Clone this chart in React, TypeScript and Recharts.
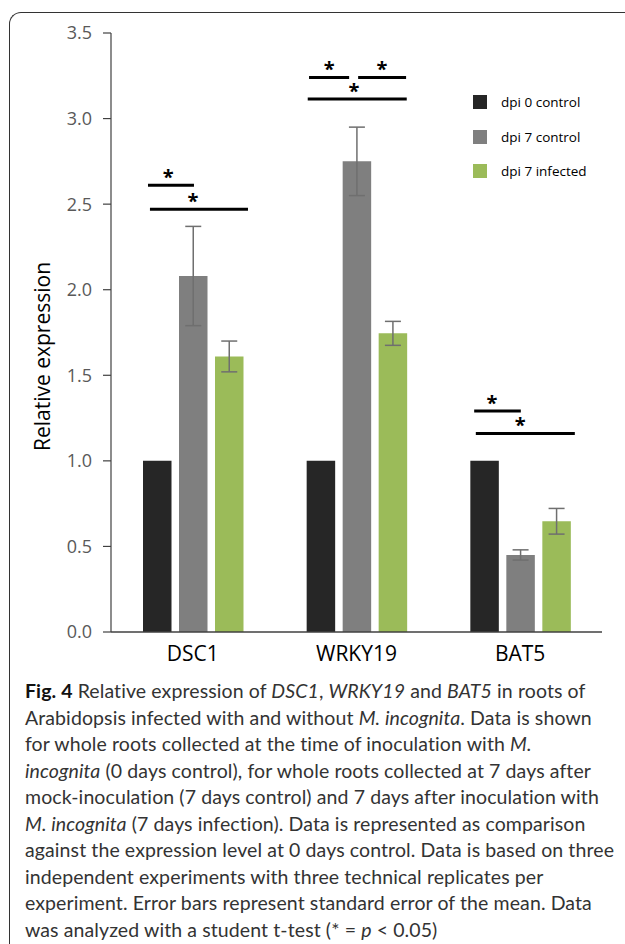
import { BarChart, Bar, XAxis, YAxis, ErrorBar, ReferenceLine, ReferenceDot } from "recharts";

const genes = ["DSC1", "WRKY19", "BAT5"];
const dpi0Control = [1, 1, 1];
const dpi0ControlErr = [0, 0, 0];
const dpi7Control = [2.08, 2.75, 0.45];
const dpi7ControlErr = [0.29, 0.2, 0.03];
const dpi7Infected = [1.61, 1.745, 0.647];
const dpi7InfectedErr = [0.09, 0.07, 0.075];
const yTicks = [0, 0.5, 1, 1.5, 2, 2.5, 3, 3.5];

// significance brackets, x in category units (0..3)
const bracketFrom = [0.226, 0.238, 1.21, 1.51, 1.202, 2.219, 2.229];
const bracketTo = [0.507, 0.837, 1.455, 1.803, 1.807, 2.504, 2.834];
const bracketLevel = [2.61, 2.47, 3.24, 3.24, 3.115, 1.292, 1.16];
const starAt = [0.35, 0.5, 1.333, 1.655, 1.485, 2.327, 2.5];

const SERIES = [
  { key: "d0", name: "dpi 0 control", color: "#262626" },
  { key: "d7c", name: "dpi 7 control", color: "#7f7f7f" },
  { key: "d7i", name: "dpi 7 infected", color: "#9bbb59" },
];

const data = genes.map((g, i) => ({
  gene: g,
  pos: i,
  d0: dpi0Control[i],
  d0e: dpi0ControlErr[i],
  d7c: dpi7Control[i],
  d7ce: dpi7ControlErr[i],
  d7i: dpi7Infected[i],
  d7ie: dpi7InfectedErr[i],
}));

const FONT = "'Open Sans', sans-serif";

function LegendBox() {
  return (
    <div style={{ position: "absolute", left: 473, top: 85, fontFamily: FONT, fontSize: 13.5, color: "#000" }}>
      {SERIES.map((s) => (
        <div key={s.key} style={{ display: "flex", alignItems: "center", height: 34.5 }}>
          <div style={{ width: 14, height: 14, background: s.color, marginRight: 14 }} />
          <span>{s.name}</span>
        </div>
      ))}
    </div>
  );
}

function Star(props: any) {
  const { cx, cy } = props;
  return (
    <text x={cx} y={cy - 1} textAnchor="middle" fontFamily={FONT} fontWeight="bold" fontSize={20} fill="#000">
      *
    </text>
  );
}

const errStyle = { width: 8, stroke: "#6f6f6f", strokeWidth: 1.5 };

export default function App() {
  return (
    <div style={{ position: "absolute", left: 0, top: 0, width: 625, height: 944, background: "#fff", overflow: "hidden" }}>
      <div
        style={{
          position: "absolute",
          left: 9,
          top: 12,
          width: 700,
          height: 1000,
          borderTop: "1.5px solid #333",
          borderLeft: "1.5px solid #333",
          borderTopLeftRadius: 12,
        }}
      />
      <div style={{ position: "absolute", left: 0, top: 0 }}>
        <BarChart
          width={625}
          height={680}
          data={data}
          margin={{ top: 33, right: 23, left: 0, bottom: 8 }}
          barSize={28.5}
          barGap={7.5}
        >
          <XAxis
            dataKey="gene"
            axisLine={{ stroke: "#404040", strokeWidth: 1.5 }}
            tickLine={false}
            tickSize={0}
            tickMargin={14}
            height={40}
            tick={{ fontFamily: FONT, fontSize: 21, fill: "#000" }}
          />
          <XAxis xAxisId="num" dataKey="pos" type="number" domain={[0, 3]} allowDataOverflow hide />
          <YAxis
            width={111}
            domain={[0, 3.5]}
            ticks={yTicks}
            tickFormatter={(v: number) => v.toFixed(1)}
            axisLine={{ stroke: "#404040", strokeWidth: 1.2 }}
            tickLine={{ stroke: "#404040", strokeWidth: 1.2 }}
            tickSize={8}
            tickMargin={11}
            tick={{ fontFamily: FONT, fontSize: 18, fill: "#595959" }}
            label={{
              value: "Relative expression",
              angle: -90,
              position: "insideLeft",
              dx: 38,
              dy: 24,
              style: { fontFamily: FONT, fontSize: 21, fill: "#000", textAnchor: "middle" },
            }}
          />
          <Bar dataKey="d0" name="dpi 0 control" fill={SERIES[0].color} isAnimationActive={false}>
            <ErrorBar dataKey="d0e" {...errStyle} />
          </Bar>
          <Bar dataKey="d7c" name="dpi 7 control" fill={SERIES[1].color} isAnimationActive={false}>
            <ErrorBar dataKey="d7ce" {...errStyle} />
          </Bar>
          <Bar dataKey="d7i" name="dpi 7 infected" fill={SERIES[2].color} isAnimationActive={false}>
            <ErrorBar dataKey="d7ie" {...errStyle} />
          </Bar>
          {bracketLevel.map((lv, i) => (
            <ReferenceLine
              key={"b" + i}
              xAxisId="num"
              segment={[
                { x: bracketFrom[i], y: lv },
                { x: bracketTo[i], y: lv },
              ]}
              stroke="#000"
              strokeWidth={3}
            />
          ))}
          {bracketLevel.map((lv, i) => (
            <ReferenceDot key={"s" + i} xAxisId="num" x={starAt[i]} y={lv} r={0} shape={<Star />} />
          ))}
        </BarChart>
      </div>
      <LegendBox />
      <div
        style={{
          position: "absolute",
          left: 25,
          top: 678,
          fontFamily: "Lato, sans-serif",
          fontSize: 19.5,
          letterSpacing: 0.1,
          lineHeight: "26.5px",
          color: "#333",
          whiteSpace: "nowrap",
        }}
      >
        <div>
          <b style={{ color: "#111" }}>Fig. 4</b> Relative expression of <i>DSC1</i>, <i>WRKY19</i> and <i>BAT5</i> in roots of
        </div>
        <div>
          Arabidopsis infected with and without <i>M. incognita</i>. Data is shown
        </div>
        <div>
          for whole roots collected at the time of inoculation with <i>M.</i>
        </div>
        <div>
          <i>incognita</i> (0 days control), for whole roots collected at 7 days after
        </div>
        <div>mock-inoculation (7 days control) and 7 days after inoculation with</div>
        <div>
          <i>M. incognita</i> (7 days infection). Data is represented as comparison
        </div>
        <div>against the expression level at 0 days control. Data is based on three</div>
        <div>independent experiments with three technical replicates per</div>
        <div>experiment. Error bars represent standard error of the mean. Data</div>
        <div>
          was analyzed with a student t-test (* = <i>p</i> &lt; 0.05)
        </div>
      </div>
    </div>
  );
}
